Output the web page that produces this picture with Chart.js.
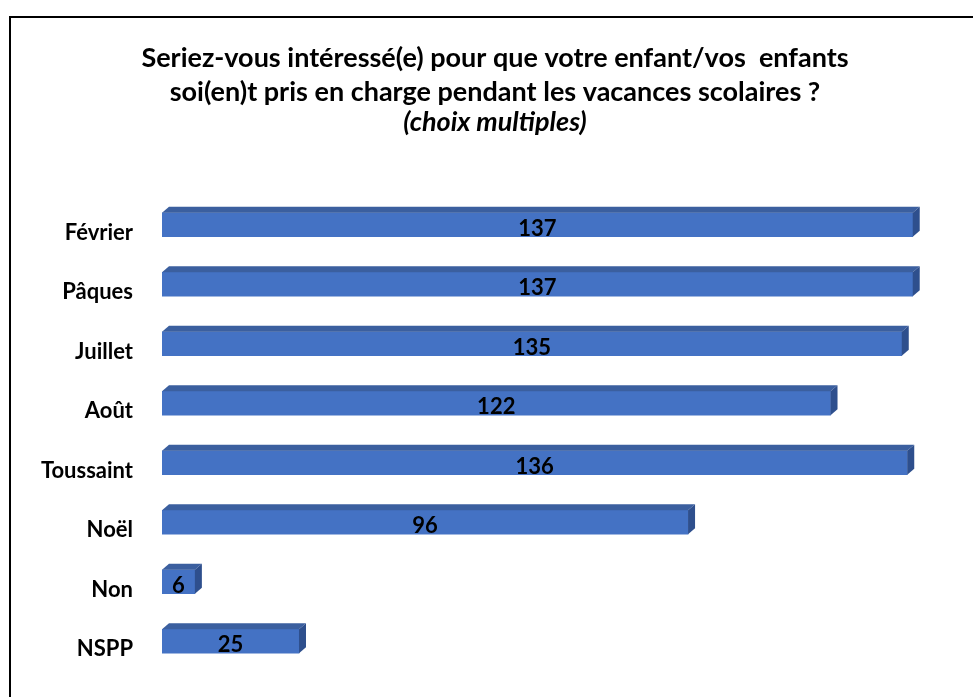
<!DOCTYPE html>
<html>
<head>
<meta charset="utf-8">
<script src="https://cdn.jsdelivr.net/npm/chart.js@4.4.0/dist/chart.umd.min.js"></script>
<style>
  html, body { margin: 0; padding: 0; background: #fff; }
  #frame {
    position: absolute; left: 9px; top: 16px; width: 1200px; height: 1200px;
    border: 2px solid #000; box-sizing: border-box;
  }
  #chart { position: absolute; left: 0; top: 0; }
</style>
</head>
<body>
<div id="frame"></div>
<canvas id="chart" width="973" height="697"></canvas>
<script>
const categories = ["Février", "Pâques", "Juillet", "Août", "Toussaint", "Noël", "Non", "NSPP"];
const responses = [137, 137, 135, 122, 136, 96, 6, 25];
const titleLines = [
  "Seriez-vous intéressé(e) pour que votre enfant/vos  enfants",
  "soi(en)t pris en charge pendant les vacances scolaires ?"
];
const subtitleText = "(choix multiples)";

const FONT = "Lato, 'Open Sans', sans-serif";
const DEPTH_X = 7;
const DEPTH_Y = 6;

// fake 3D: top and side faces behind each bar, value text on the front
const bar3d = {
  id: "bar3d",
  afterDatasetsDraw(chart) {
    const ctx = chart.ctx;
    const meta = chart.getDatasetMeta(0);
    ctx.save();
    meta.data.forEach((bar, i) => {
      const p = bar.getProps(["x", "y", "base", "height"], true);
      const top = p.y - p.height / 2;
      const bottom = p.y + p.height / 2;

      ctx.fillStyle = "#3b5f9f";
      ctx.beginPath();
      ctx.moveTo(p.base, top);
      ctx.lineTo(p.base + DEPTH_X, top - DEPTH_Y);
      ctx.lineTo(p.x + DEPTH_X, top - DEPTH_Y);
      ctx.lineTo(p.x, top);
      ctx.closePath();
      ctx.fill();

      ctx.fillStyle = "#2e4f8d";
      ctx.beginPath();
      ctx.moveTo(p.x, top);
      ctx.lineTo(p.x + DEPTH_X, top - DEPTH_Y);
      ctx.lineTo(p.x + DEPTH_X, bottom - DEPTH_Y);
      ctx.lineTo(p.x, bottom);
      ctx.closePath();
      ctx.fill();

      ctx.fillStyle = "#000";
      ctx.font = "bold 22px " + FONT;
      ctx.textAlign = "center";
      ctx.textBaseline = "middle";
      ctx.fillText(String(responses[i]), (p.base + p.x) / 2, p.y + 4);
    });
    ctx.restore();
  }
};

new Chart(document.getElementById("chart").getContext("2d"), {
  type: "bar",
  data: {
    labels: categories,
    datasets: [{
      data: responses,
      backgroundColor: "#4472C4",
      borderWidth: 0,
      barThickness: 24
    }]
  },
  options: {
    indexAxis: "y",
    responsive: false,
    animation: false,
    layout: { padding: { left: 17, right: 0, top: 41.5, bottom: 26 } },
    scales: {
      x: { display: false, min: 0, max: 148 },
      y: {
        grid: { display: false, drawTicks: false },
        border: { display: false },
        ticks: {
          color: "#000",
          padding: 29,
          labelOffset: 8,
          font: { family: FONT, size: 22, weight: "bold" }
        },
        afterFit(scale) {
          scale.width = 145;
          scale.paddingTop = 0;
          scale.paddingBottom = 0;
        }
      }
    },
    plugins: {
      legend: { display: false },
      tooltip: { enabled: false },
      title: {
        display: true,
        text: titleLines,
        color: "#000",
        font: { family: FONT, size: 27, weight: "bold", lineHeight: "34px" },
        padding: { top: 0, bottom: 0 }
      },
      subtitle: {
        display: true,
        text: subtitleText,
        color: "#000",
        font: { family: FONT, size: 27, weight: "bold", style: "italic", lineHeight: "26px" },
        padding: { top: 0, bottom: 59.5 }
      }
    }
  },
  plugins: [bar3d]
});
</script>
</body>
</html>
